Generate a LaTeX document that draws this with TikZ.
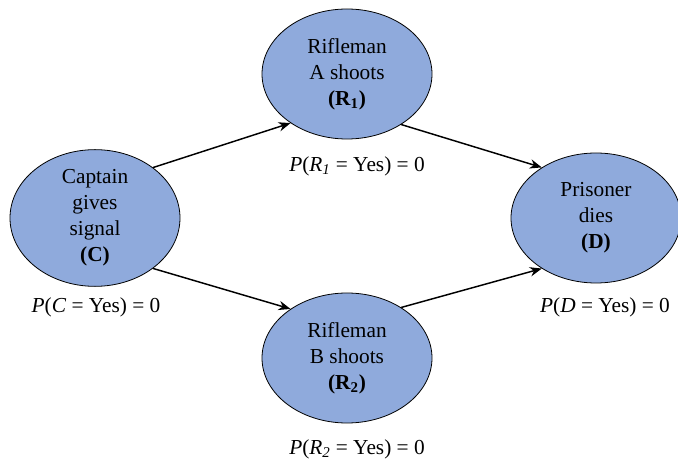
\documentclass[tikz,border=0pt]{standalone}
\usepackage{fontspec}
\setmainfont{Liberation Serif}
\usepackage{xcolor}
\usepackage{tikz}
\usetikzlibrary{arrows.meta, positioning, shapes.geometric}
\definecolor{nodeblue}{RGB}{143,170,220}
\newcommand{\probyes}[2]{\textit{P}(\textit{#1}#2 = Yes) = 0}

\begin{document}
\begin{tikzpicture}[x=0.75pt, y=-0.75pt,
  event/.style={ellipse, draw, fill=nodeblue, line width=0.6pt, inner sep=0pt,
                minimum width=127.5pt, minimum height=97.5pt, align=center,
                font=\fontsize{16}{19.5}\selectfont},
  prob/.style={font=\fontsize{16}{19.5}\selectfont, inner sep=0pt},
  arrow/.style={-{Stealth[length=9pt, width=7pt]}, line width=1.1pt}]

  \useasboundingbox (0,0) rectangle (678,466);

  \node[event] (C)  at (95,218)  {Captain\\gives\\signal\\\textbf{(C)}};
  \node[event] (R1) at (347,74)  {Rifleman\\A shoots\\\textbf{(R\textsubscript{1})}};
  \node[event] (R2) at (347,358) {Rifleman\\B shoots\\\textbf{(R\textsubscript{2})}};
  \node[event] (D)  at (596,218) {Prisoner\\dies\\\textbf{(D)}};

  \node[prob] (pC)  at (96,307)  {\probyes{C}{}};
  \node[prob] (pR1) at (357,166) {\probyes{R}{\textsubscript{\textit{1}}}};
  \node[prob] (pR2) at (357,449) {\probyes{R}{\textsubscript{\textit{2}}}};
  \node[prob] (pD)  at (605,307) {\probyes{D}{}};

  \draw[arrow] (C.41)   -- (R1.-139);
  \draw[arrow] (C.-41)  -- (R2.139);
  \draw[arrow] (R1.-43) -- (D.137);
  \draw[arrow] (R2.43)  -- (D.-137);
\end{tikzpicture}
\end{document}
